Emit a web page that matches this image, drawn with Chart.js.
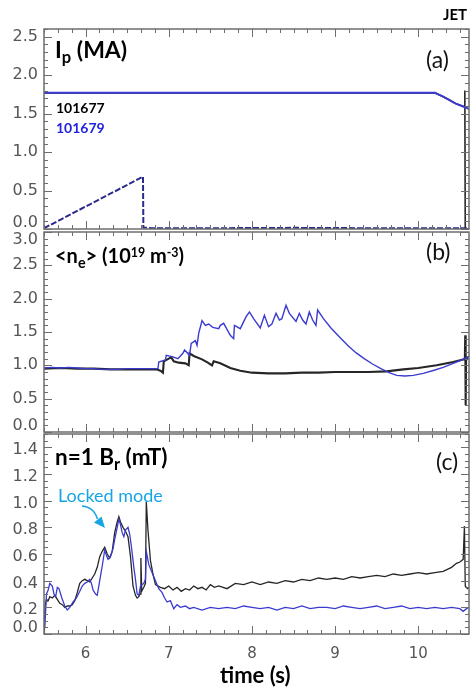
<!DOCTYPE html>
<html>
<head>
<meta charset="utf-8">
<script src="https://cdn.jsdelivr.net/npm/chart.js@4"></script>
<style>
    html, body { margin: 0; padding: 0; background: #fff; }
    #wrap { position: relative; width: 473px; height: 691px; overflow: hidden; }
    #wrap canvas { position: absolute; left: 0; }
    .t { position: absolute; font-family: Lato, "Open Sans", sans-serif; white-space: nowrap; line-height: 1; z-index: 5; }
    .ttl { font-weight: bold; font-size: 21px; color: #000; }
    .ttl sub { font-size: 0.72em; vertical-align: -0.32em; line-height: 0; }
    .ttl sup { font-size: 0.62em; vertical-align: 0.5em; line-height: 0; }
    .lbl { font-size: 23px; color: #111; }
    .shot { font-weight: bold; font-size: 14px; }
    #arrow { position: absolute; left: 0; top: 0; z-index: 5; }
</style>
</head>
<body>
<div id="wrap">
    <canvas id="panelA" width="473" height="240" style="top:0px"></canvas>
    <canvas id="panelB" width="473" height="215" style="top:225px"></canvas>
    <canvas id="panelC" width="473" height="271" style="top:420px"></canvas>

    <div class="t shot" style="left:443px; top:7px; font-size:15px;">JET</div>

    <div class="t ttl" style="left:55px; top:38px; font-size:23px;">I<sub>p</sub> (MA)</div>
    <div class="t ttl" style="left:55px; top:245px; font-size:20px;">&lt;n<sub>e</sub>&gt; (10<sup>19</sup> m<sup>-3</sup>)</div>
    <div class="t ttl" style="left:55px; top:446px; font-size:22.5px;">n=1 B<sub>r</sub> (mT)</div>

    <div class="t lbl" style="left:426px; top:48px;">(a)</div>
    <div class="t lbl" style="left:426px; top:240px;">(b)</div>
    <div class="t lbl" style="left:436px; top:450px;">(c)</div>

    <div class="t shot" style="left:56px; top:101px; color:#000;">101677</div>
    <div class="t shot" style="left:56px; top:121px; color:#2222e0;">101679</div>

    <div class="t" style="left:58px; top:486px; font-size:18px; color:#17a6e3;">Locked mode</div>
    <svg id="arrow" width="473" height="691">
        <path d="M82 506 Q94 507 97.5 519" fill="none" stroke="#17a6e3" stroke-width="1.5"/>
        <polygon points="94,522.5 101.5,516.5 105,528" fill="#17a6e3"/>
    </svg>

    <div class="t" style="left:220px; top:664px; font-size:22px; font-weight:bold;">time (s)</div>
</div>

<script>
    const timeTicks = [6, 7, 8, 9, 10];
    const ipTicks = [0, 0.5, 1.0, 1.5, 2.0, 2.5];
    const neTicks = [0, 0.5, 1.0, 1.5, 2.0, 2.5, 3.0];
    const brTicks = [0, 0.2, 0.4, 0.6, 0.8, 1.0, 1.2, 1.4];

    // (a) plasma current, MA  [time, value]
    const ip77 = [[5.5, 1.77], [6.5, 1.77], [7.5, 1.77], [8.5, 1.77], [9.5, 1.77], [10.2, 1.77],
        [10.3, 1.72], [10.37, 1.68], [10.45, 1.63], [10.555, 1.59], [10.56, 1.8], [10.565, 0.0], [10.61, 0.0]];
    const ip79 = [[5.5, 1.77], [6.5, 1.77], [7.5, 1.77], [8.5, 1.77], [9.5, 1.77], [10.2, 1.77],
        [10.3, 1.72], [10.37, 1.68], [10.45, 1.63], [10.57, 1.58], [10.61, 1.56]];
    const ipRamp = [[5.5, 0.01], [6.69, 0.68], [6.695, 0.02], [6.8, 0.01], [7.5, 0.01], [8.5, 0.015], [9.5, 0.01], [10.61, 0.01]];

    // (b) line averaged density, 1e19 m^-3
    const ne77 = [[5.5, 0.95], [5.7, 0.96], [5.9, 0.95], [6.1, 0.95], [6.3, 0.94], [6.5, 0.94], [6.7, 0.94],
        [6.85, 0.94], [6.9, 0.92], [6.93, 0.89], [6.94, 1.06], [7.0, 1.1], [7.03, 1.12], [7.06, 1.06],
        [7.12, 1.04], [7.2, 1.03], [7.24, 1.0], [7.25, 1.18], [7.3, 1.14], [7.4, 1.09], [7.47, 1.04],
        [7.52, 1.0], [7.54, 1.06], [7.62, 1.03], [7.74, 0.96], [7.86, 0.92], [8.0, 0.89], [8.2, 0.88],
        [8.4, 0.88], [8.6, 0.89], [8.8, 0.89], [9.0, 0.9], [9.2, 0.9], [9.4, 0.9], [9.62, 0.91],
        [9.82, 0.94], [10.0, 0.96], [10.22, 1.0], [10.42, 1.05], [10.55, 1.09], [10.56, 1.1],
        [10.565, 1.45], [10.57, 0.4], [10.575, 1.1], [10.61, 1.13]];
    const ne79 = [[5.5, 0.96], [5.6, 0.97], [5.7, 0.96], [5.8, 0.97], [5.9, 0.96], [6.0, 0.95], [6.1, 0.95],
        [6.2, 0.94], [6.3, 0.94], [6.4, 0.94], [6.5, 0.95], [6.6, 0.95], [6.7, 0.95], [6.8, 0.95],
        [6.87, 0.95], [6.88, 1.05], [6.96, 1.08], [6.97, 1.15], [7.04, 1.13], [7.11, 1.1], [7.17, 1.18],
        [7.19, 1.23], [7.25, 1.15], [7.27, 1.33], [7.32, 1.37], [7.34, 1.3], [7.36, 1.48], [7.4, 1.67],
        [7.44, 1.6], [7.48, 1.62], [7.53, 1.57], [7.6, 1.55], [7.62, 1.6], [7.66, 1.63], [7.74, 1.45],
        [7.78, 1.4], [7.79, 1.6], [7.86, 1.55], [7.93, 1.73], [7.97, 1.8], [8.02, 1.7], [8.1, 1.56],
        [8.15, 1.75], [8.2, 1.58], [8.24, 1.62], [8.29, 1.78], [8.33, 1.68], [8.36, 1.7], [8.41, 1.9],
        [8.45, 1.78], [8.53, 1.66], [8.57, 1.78], [8.61, 1.68], [8.65, 1.62], [8.69, 1.8], [8.73, 1.68],
        [8.77, 1.6], [8.79, 1.83], [8.86, 1.7], [8.95, 1.56], [9.05, 1.43], [9.15, 1.3], [9.25, 1.19],
        [9.35, 1.1], [9.45, 1.02], [9.55, 0.95], [9.65, 0.89], [9.74, 0.85], [9.84, 0.84], [9.94, 0.85],
        [10.06, 0.88], [10.2, 0.93], [10.3, 0.97], [10.42, 1.03], [10.52, 1.08], [10.61, 1.13]];

    // (c) n=1 radial field, mT
    const br77 = [[5.5, 0.0], [5.505, 0.12], [5.515, 0.22], [5.53, 0.26], [5.55, 0.25], [5.57, 0.28],
        [5.6, 0.27], [5.63, 0.29], [5.66, 0.26], [5.69, 0.23], [5.72, 0.22], [5.75, 0.2], [5.78, 0.21],
        [5.81, 0.21], [5.84, 0.22], [5.87, 0.25], [5.9, 0.31], [5.93, 0.38], [5.96, 0.4], [5.99, 0.41],
        [6.02, 0.4], [6.05, 0.39], [6.08, 0.42], [6.11, 0.45], [6.14, 0.5], [6.17, 0.58], [6.2, 0.62],
        [6.23, 0.65], [6.26, 0.6], [6.29, 0.57], [6.32, 0.62], [6.35, 0.76], [6.38, 0.84], [6.4, 0.88],
        [6.42, 0.84], [6.45, 0.8], [6.48, 0.77], [6.51, 0.73], [6.54, 0.58], [6.57, 0.36], [6.6, 0.29],
        [6.62, 0.27], [6.64, 0.28], [6.655, 0.3], [6.665, 0.57], [6.675, 0.32], [6.7, 0.35], [6.72, 0.38],
        [6.73, 0.99], [6.75, 0.78], [6.78, 0.55], [6.81, 0.45], [6.84, 0.37], [6.9, 0.35], [6.95, 0.34],
        [7.0, 0.36], [7.05, 0.33], [7.1, 0.35], [7.15, 0.32], [7.2, 0.34], [7.25, 0.33], [7.3, 0.36],
        [7.35, 0.34], [7.4, 0.35], [7.45, 0.33], [7.5, 0.37], [7.55, 0.35], [7.6, 0.36], [7.7, 0.34],
        [7.8, 0.38], [7.9, 0.37], [8.0, 0.39], [8.1, 0.37], [8.2, 0.39], [8.3, 0.38], [8.4, 0.4],
        [8.5, 0.39], [8.6, 0.41], [8.7, 0.4], [8.8, 0.42], [8.9, 0.41], [9.0, 0.42], [9.1, 0.41],
        [9.2, 0.43], [9.3, 0.42], [9.4, 0.43], [9.5, 0.44], [9.6, 0.43], [9.7, 0.45], [9.8, 0.44],
        [9.9, 0.45], [10.0, 0.46], [10.1, 0.45], [10.2, 0.46], [10.3, 0.47], [10.4, 0.5], [10.46, 0.53],
        [10.5, 0.54], [10.54, 0.56], [10.555, 0.81], [10.565, 0.36], [10.59, 0.34], [10.61, 0.35]];
    const br79 = [[5.51, 0.05], [5.53, 0.3], [5.55, 0.33], [5.57, 0.38], [5.6, 0.36], [5.62, 0.3],
        [5.64, 0.28], [5.66, 0.35], [5.68, 0.34], [5.7, 0.3], [5.72, 0.26], [5.75, 0.21], [5.78, 0.18],
        [5.81, 0.2], [5.85, 0.24], [5.89, 0.27], [5.93, 0.32], [5.96, 0.36], [5.99, 0.38], [6.02, 0.39],
        [6.05, 0.41], [6.07, 0.38], [6.09, 0.33], [6.12, 0.3], [6.14, 0.29], [6.17, 0.4], [6.2, 0.51],
        [6.23, 0.63], [6.25, 0.59], [6.27, 0.56], [6.3, 0.58], [6.33, 0.64], [6.35, 0.71], [6.38, 0.8],
        [6.4, 0.86], [6.42, 0.82], [6.44, 0.76], [6.46, 0.73], [6.48, 0.78], [6.51, 0.8], [6.53, 0.75],
        [6.55, 0.66], [6.58, 0.5], [6.6, 0.41], [6.62, 0.3], [6.64, 0.29], [6.66, 0.36], [6.7, 0.38],
        [6.72, 0.41], [6.73, 0.62], [6.76, 0.52], [6.8, 0.46], [6.84, 0.4], [6.88, 0.34], [6.92, 0.31],
        [6.95, 0.27], [6.98, 0.24], [7.02, 0.25], [7.06, 0.19], [7.1, 0.22], [7.14, 0.2], [7.2, 0.21],
        [7.25, 0.19], [7.3, 0.2], [7.4, 0.18], [7.5, 0.2], [7.6, 0.19], [7.7, 0.2], [7.8, 0.19],
        [7.9, 0.21], [8.0, 0.2], [8.1, 0.19], [8.2, 0.2], [8.3, 0.18], [8.4, 0.2], [8.5, 0.19],
        [8.6, 0.21], [8.7, 0.19], [8.8, 0.2], [8.9, 0.2], [9.0, 0.19], [9.1, 0.21], [9.2, 0.2],
        [9.3, 0.19], [9.4, 0.2], [9.5, 0.21], [9.6, 0.19], [9.7, 0.2], [9.8, 0.21], [9.9, 0.19],
        [10.0, 0.2], [10.1, 0.19], [10.2, 0.2], [10.3, 0.19], [10.4, 0.2], [10.5, 0.19], [10.54, 0.17],
        [10.58, 0.19], [10.61, 0.2]];

    const BLACK = '#262626';
    const BLUE = '#3b3bd0';
    const AXIS = '#6e6e6e';

    function toPoints(pairs) {
        return pairs.map(p => ({ x: p[0], y: p[1] }));
    }

    function trace(pairs, color, width, dash) {
        return {
            data: toPoints(pairs),
            borderColor: color,
            borderWidth: width,
            borderDash: dash || [],
            pointRadius: 0,
            fill: false
        };
    }

    // IDL style box: inward ticks on all four sides, y labels kept inside the panel
    const boxAxes = {
        id: 'boxAxes',
        afterDraw(chart, args, opts) {
            const { ctx, chartArea: a } = chart;
            const xs = chart.scales.x, ys = chart.scales.y;
            const line = (x1, y1, x2, y2) => { ctx.beginPath(); ctx.moveTo(x1, y1); ctx.lineTo(x2, y2); ctx.stroke(); };
            const isMajor = (list, v) => list.some(m => Math.abs(m - v) < 1e-6);

            ctx.save();
            ctx.strokeStyle = AXIS;
            ctx.lineWidth = 1;

            let i0 = Math.ceil(ys.min / opts.yMinor - 1e-6);
            for (let i = i0; i * opts.yMinor <= ys.max + 1e-6; i++) {
                const v = i * opts.yMinor;
                const len = isMajor(opts.yMajor, v) ? 8 : 4;
                const py = Math.round(ys.getPixelForValue(v)) + 0.5;
                line(a.left, py, a.left + len, py);
                line(a.right, py, a.right - len, py);
            }

            i0 = Math.ceil(xs.min / opts.xMinor - 1e-6);
            for (let i = i0; i * opts.xMinor <= xs.max + 1e-6; i++) {
                const v = i * opts.xMinor;
                const len = isMajor(timeTicks, v) ? 8 : 4;
                const px = Math.round(xs.getPixelForValue(v)) + 0.5;
                line(px, a.top, px, a.top + len);
                line(px, a.bottom, px, a.bottom - len);
            }

            ctx.lineWidth = 1.5;
            ctx.strokeRect(a.left, a.top, a.right - a.left, a.bottom - a.top);

            ctx.fillStyle = '#555';
            ctx.font = '16px "DejaVu Sans"';
            ctx.textAlign = 'right';
            ctx.textBaseline = 'middle';
            opts.yMajor.forEach(v => {
                let py = ys.getPixelForValue(v) + opts.labelShift;
                py = Math.min(Math.max(py, a.top + 8), a.bottom - 6);
                ctx.fillText(v.toFixed(1), a.left - 6, py);
            });
            ctx.restore();
        }
    };

    function makePanel(id, cfg) {
        return new Chart(document.getElementById(id), {
            type: 'line',
            data: { datasets: cfg.datasets },
            options: {
                responsive: false,
                animation: false,
                events: [],
                layout: { padding: cfg.padding },
                elements: { line: { tension: 0 } },
                plugins: {
                    legend: { display: false },
                    tooltip: { enabled: false },
                    boxAxes: { yMajor: cfg.yTicks, yMinor: cfg.yMinor, xMinor: 1 / 6, labelShift: cfg.labelShift }
                },
                scales: {
                    x: {
                        type: 'linear',
                        min: 5.5,
                        max: 10.61,
                        display: cfg.showTime,
                        afterBuildTicks: s => { s.ticks = timeTicks.map(v => ({ value: v })); },
                        afterFit: s => { if (cfg.showTime) s.height = 57; },
                        ticks: {
                            color: '#555',
                            font: { family: 'DejaVu Sans', size: 15 },
                            padding: 11,
                            maxRotation: 0,
                            autoSkip: false
                        },
                        grid: { display: false, drawTicks: false },
                        border: { display: false }
                    },
                    y: {
                        type: 'linear',
                        min: cfg.yMin,
                        max: cfg.yMax,
                        afterBuildTicks: s => { s.ticks = cfg.yTicks.map(v => ({ value: v })); },
                        afterFit: s => { s.width = 44; },
                        ticks: { display: false },
                        grid: { display: false, drawTicks: false },
                        border: { display: false }
                    }
                }
            },
            plugins: [boxAxes]
        });
    }

    makePanel('panelA', {
        datasets: [trace(ip79, BLUE, 2), trace(ipRamp, '#2b2b8c', 2, [6, 2]), trace(ip77, BLACK, 1.6)],
        yMin: 0, yMax: 2.6, yTicks: ipTicks, yMinor: 0.1, labelShift: 0,
        padding: { top: 29, bottom: 11, left: 0, right: 4 },
        showTime: false
    });

    makePanel('panelB', {
        datasets: [trace(ne79, BLUE, 1.4), trace(ne77, BLACK, 2.1)],
        yMin: 0, yMax: 3.0, yTicks: neTicks, yMinor: 0.1, labelShift: 0,
        padding: { top: 7, bottom: 8, left: 0, right: 4 },
        showTime: false
    });

    makePanel('panelC', {
        datasets: [trace(br79, BLUE, 1.3), trace(br77, BLACK, 1.3)],
        yMin: 0, yMax: 1.5, yTicks: brTicks, yMinor: 0.05, labelShift: 3,
        padding: { top: 14, bottom: 0, left: 0, right: 4 },
        showTime: true
    });
</script>
</body>
</html>
